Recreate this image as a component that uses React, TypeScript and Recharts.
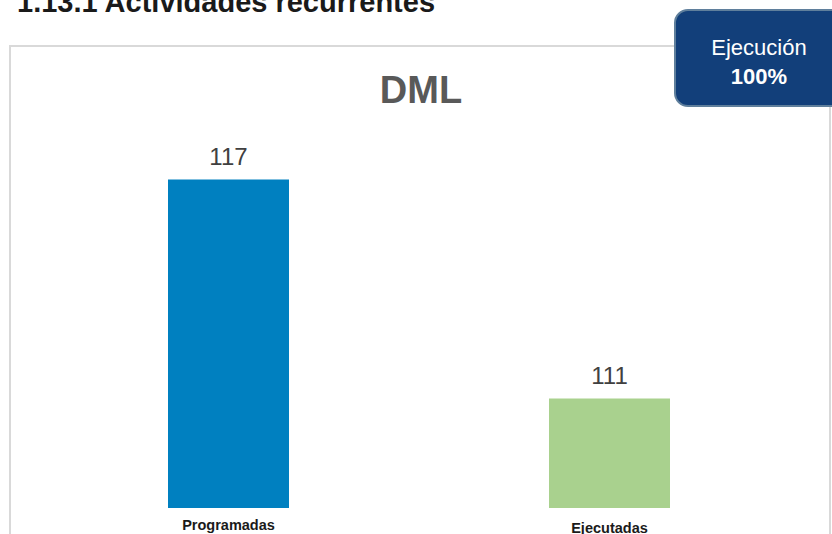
import { BarChart, Bar, XAxis, YAxis, Cell, LabelList } from "recharts"

// datos del grafico
const categories = ["Programadas", "Ejecutadas"]
const values = [117, 111]
const barColors = ["#0080C0", "#A9D18E"]
const yDomain = [108, 120]

const data = categories.map((name, i) => ({ name, value: values[i] }))

const FONT = "'Liberation Sans', Arial, sans-serif"

// etiqueta del eje x (la segunda va un poco mas abajo en el original)
function CategoryTick(props: any) {
  const { x, y, payload, index } = props
  return (
    <text
      x={x}
      y={y + 14 + (index === 1 ? 3 : 0)}
      textAnchor="middle"
      fontSize={14.5}
      fontWeight="bold"
      fill="#1a1a1a"
      fontFamily={FONT}
    >
      {payload.value}
    </text>
  )
}

export default function App() {
  return (
    <div
      style={{
        position: "fixed",
        left: 0,
        top: 0,
        width: 832,
        height: 534,
        overflow: "hidden",
        background: "#fff",
        fontFamily: FONT,
      }}
    >
      <div
        style={{
          position: "absolute",
          left: 17,
          top: -14,
          fontSize: 29,
          lineHeight: "32px",
          fontWeight: "bold",
          color: "#1a1a1a",
          whiteSpace: "pre",
        }}
      >
        1.13.1 Actividades recurrentes
      </div>
      <div
        style={{
          position: "absolute",
          left: 9,
          top: 45,
          width: 818,
          height: 520,
          border: "2px solid #D9D9D9",
        }}
      />
      <div
        style={{
          position: "absolute",
          left: 321,
          top: 68,
          width: 200,
          textAlign: "center",
          fontSize: 38,
          lineHeight: "44px",
          fontWeight: "bold",
          color: "#595959",
        }}
      >
        DML
      </div>
      <div style={{ position: "absolute", left: 0, top: 0 }}>
        <BarChart
          width={832}
          height={560}
          data={data}
          margin={{ top: 70, right: 32, left: 38, bottom: 22 }}
          barCategoryGap={130}
        >
          <YAxis hide domain={yDomain} allowDataOverflow />
          <XAxis
            dataKey="name"
            axisLine={false}
            tickLine={false}
            height={30}
            tick={<CategoryTick />}
          />
          <Bar dataKey="value" isAnimationActive={false}>
            {data.map((d, i) => (
              <Cell key={d.name} fill={barColors[i]} />
            ))}
            <LabelList
              dataKey="value"
              position="top"
              offset={15}
              style={{ fontSize: 24, fill: "#404040", fontFamily: FONT }}
            />
          </Bar>
        </BarChart>
      </div>
      <div
        style={{
          position: "absolute",
          left: 674,
          top: 9,
          width: 172,
          height: 98,
          background: "#123F7A",
          border: "2px solid #5F7F9C",
          borderRadius: 14,
          color: "#fff",
          boxSizing: "border-box",
        }}
      >
        <div
          style={{
            position: "absolute",
            left: 0,
            width: 166,
            top: 22,
            textAlign: "center",
            fontSize: 22,
            lineHeight: "29px",
          }}
        >
          <div>Ejecución</div>
          <div style={{ fontWeight: "bold" }}>100%</div>
        </div>
      </div>
    </div>
  )
}
